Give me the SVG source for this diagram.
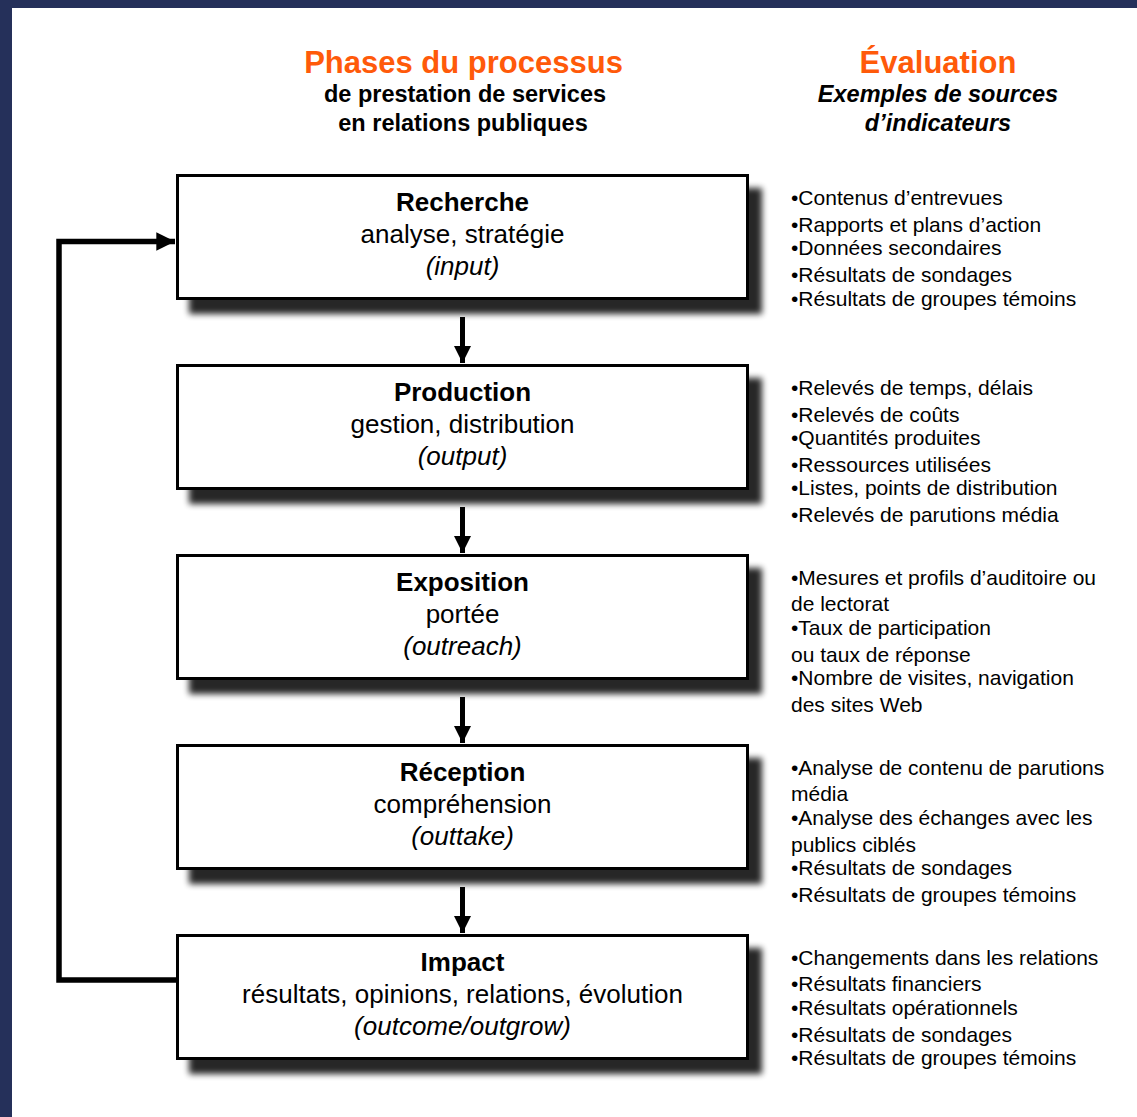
<svg xmlns="http://www.w3.org/2000/svg" width="1137" height="1117" viewBox="0 0 1137 1117">
  <defs>
    <filter id="shadow" x="-10%" y="-20%" width="130%" height="160%">
      <feGaussianBlur in="SourceAlpha" stdDeviation="3"/>
      <feOffset dx="13" dy="14" result="b"/>
      <feComponentTransfer><feFuncA type="linear" slope="0.85"/></feComponentTransfer>
      <feMerge><feMergeNode/><feMergeNode in="SourceGraphic"/></feMerge>
    </filter>
    <marker id="head" viewBox="0 0 10 10" refX="10" refY="5" markerWidth="3.4" markerHeight="3.4" markerUnits="strokeWidth" orient="auto">
      <path d="M0,0 L10,5 L0,10 Z" fill="#000"/>
    </marker>
  </defs>
  <style>
    .box{fill:#fff;stroke:#000;stroke-width:3}
    .t{font-family:"Liberation Sans",Arial,sans-serif;fill:#000}
    .title{font-size:26px;font-weight:bold;text-anchor:middle}
    .sub{font-size:26px;text-anchor:middle}
    .it{font-size:26px;font-style:italic;text-anchor:middle}
    .hd{font-size:31px;font-weight:bold;fill:#ff5a0a;text-anchor:middle}
    .hs{font-size:23.5px;font-weight:bold;text-anchor:middle}
    .hsi{font-size:23.5px;font-weight:bold;font-style:italic;text-anchor:middle}
    .li{font-size:21px}
    .conn{stroke:#000;fill:none}
  </style>
  <rect x="0" y="0" width="1137" height="1117" fill="#25305a"/>
  <rect x="12" y="8" width="1125" height="1109" fill="#fff"/>

  <g id="headers" class="t">
    <text class="t hd" x="463.5" y="73">Phases du processus</text>
    <text class="t hs" x="465" y="102">de prestation de services</text>
    <text class="t hs" x="463" y="131">en relations publiques</text>
    <text class="t hd" x="938" y="73">Évaluation</text>
    <text class="t hsi" x="938" y="102">Exemples de sources</text>
    <text class="t hsi" x="938" y="131">d’indicateurs</text>
  </g>

  <g id="connectors">
    <line class="conn" x1="462.5" y1="317" x2="462.5" y2="363" stroke-width="5" marker-end="url(#head)"/>
    <line class="conn" x1="462.5" y1="507" x2="462.5" y2="553" stroke-width="5" marker-end="url(#head)"/>
    <line class="conn" x1="462.5" y1="697" x2="462.5" y2="743" stroke-width="5" marker-end="url(#head)"/>
    <line class="conn" x1="462.5" y1="887" x2="462.5" y2="933" stroke-width="5" marker-end="url(#head)"/>
    <path class="conn" d="M176,980 H59 V241.5 H175" stroke-width="5.5" stroke-linejoin="miter" marker-end="url(#head)"/>
  </g>

  <g id="recherche">
    <rect class="box" x="177.5" y="175.5" width="570" height="123" filter="url(#shadow)"/>
    <text class="t title" x="462.5" y="211">Recherche</text>
    <text class="t sub" x="462.5" y="243">analyse, stratégie</text>
    <text class="t it" x="462.5" y="275">(input)</text>
  </g>
  <g id="production">
    <rect class="box" x="177.5" y="365.5" width="570" height="123" filter="url(#shadow)"/>
    <text class="t title" x="462.5" y="401">Production</text>
    <text class="t sub" x="462.5" y="433">gestion, distribution</text>
    <text class="t it" x="462.5" y="465">(output)</text>
  </g>
  <g id="exposition">
    <rect class="box" x="177.5" y="555.5" width="570" height="123" filter="url(#shadow)"/>
    <text class="t title" x="462.5" y="591">Exposition</text>
    <text class="t sub" x="462.5" y="623">portée</text>
    <text class="t it" x="462.5" y="655">(outreach)</text>
  </g>
  <g id="reception">
    <rect class="box" x="177.5" y="745.5" width="570" height="123" filter="url(#shadow)"/>
    <text class="t title" x="462.5" y="781">Réception</text>
    <text class="t sub" x="462.5" y="813">compréhension</text>
    <text class="t it" x="462.5" y="845">(outtake)</text>
  </g>
  <g id="impact">
    <rect class="box" x="177.5" y="935.5" width="570" height="123" filter="url(#shadow)"/>
    <text class="t title" x="462.5" y="971">Impact</text>
    <text class="t sub" x="462.5" y="1003">résultats, opinions, relations, évolution</text>
    <text class="t it" x="462.5" y="1035">(outcome/outgrow)</text>
  </g>

  <g id="list-recherche" class="t li">
    <text x="791" y="205">•Contenus d’entrevues</text>
    <text x="791" y="232">•Rapports et plans d’action</text>
    <text x="791" y="255">•Données secondaires</text>
    <text x="791" y="282">•Résultats de sondages</text>
    <text x="791" y="306">•Résultats de groupes témoins</text>
  </g>
  <g id="list-production" class="t li">
    <text x="791" y="395">•Relevés de temps, délais</text>
    <text x="791" y="422">•Relevés de coûts</text>
    <text x="791" y="445">•Quantités produites</text>
    <text x="791" y="472">•Ressources utilisées</text>
    <text x="791" y="495">•Listes, points de distribution</text>
    <text x="791" y="522">•Relevés de parutions média</text>
  </g>
  <g id="list-exposition" class="t li">
    <text x="791" y="585">•Mesures et profils d’auditoire ou</text>
    <text x="791" y="611">de lectorat</text>
    <text x="791" y="635">•Taux de participation</text>
    <text x="791" y="662">ou taux de réponse</text>
    <text x="791" y="685">•Nombre de visites, navigation</text>
    <text x="791" y="712">des sites Web</text>
  </g>
  <g id="list-reception" class="t li">
    <text x="791" y="775">•Analyse de contenu de parutions</text>
    <text x="791" y="801">média</text>
    <text x="791" y="825">•Analyse des échanges avec les</text>
    <text x="791" y="852">publics ciblés</text>
    <text x="791" y="875">•Résultats de sondages</text>
    <text x="791" y="902">•Résultats de groupes témoins</text>
  </g>
  <g id="list-impact" class="t li">
    <text x="791" y="965">•Changements dans les relations</text>
    <text x="791" y="991">•Résultats financiers</text>
    <text x="791" y="1015">•Résultats opérationnels</text>
    <text x="791" y="1042">•Résultats de sondages</text>
    <text x="791" y="1065">•Résultats de groupes témoins</text>
  </g>
</svg>
